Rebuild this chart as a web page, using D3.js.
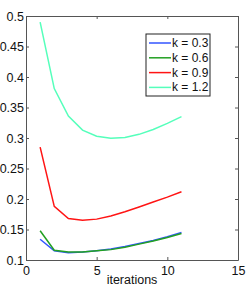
<!DOCTYPE html>
<html>
<head>
<meta charset="utf-8">
<script src="https://cdn.jsdelivr.net/npm/d3@7"></script>
<style>
  body { margin: 0; background: #fff; }
  svg { display: block; font-family: "Liberation Sans", Arial, sans-serif; }
</style>
</head>
<body>
<svg id="chart"></svg>
<script>
let width = 249,
  height = 287;

// Data
const iterations = [1, 2, 3, 4, 5, 6, 7, 8, 9, 10, 11];
const k03 = [0.134, 0.115, 0.112, 0.113, 0.115, 0.118, 0.122, 0.127, 0.132, 0.138, 0.145];
const k06 = [0.148, 0.116, 0.113, 0.113, 0.115, 0.117, 0.121, 0.126, 0.131, 0.137, 0.1436];
const k09 = [0.285, 0.188, 0.168, 0.165, 0.167, 0.172, 0.179, 0.187, 0.195, 0.203, 0.212];
const k12 = [0.49, 0.381, 0.336, 0.313, 0.303, 0.2995, 0.301, 0.306, 0.314, 0.324, 0.335];
const seriesNames = ["k = 0.3", "k = 0.6", "k = 0.9", "k = 1.2"];
const seriesColors = ["#3355ff", "#22a022", "#ff1414", "#55ffbb"];
const xTicks = [0, 5, 10, 15];
const yTicks = [0.1, 0.15, 0.2, 0.25, 0.3, 0.35, 0.4, 0.45, 0.5];

const series = [k03, k06, k09, k12];

let svg = d3.select("#chart").attr("width", width).attr("height", height);

let margin = { left: 26, right: 11, top: 16, bottom: 27 };

let x = d3.scaleLinear().domain([0, 15]).range([margin.left, width - margin.right]);
let y = d3.scaleLinear().domain([0.1, 0.5]).range([height - margin.bottom, margin.top]);

// Axes (ticks inside, matlab style)
let axisColor = "#555";
let axisBottomG = svg.append("g")
  .attr("transform", "translate(0," + y(0.1) + ")")
  .call(d3.axisBottom(x).tickValues(xTicks).tickSizeInner(-3).tickSizeOuter(0).tickPadding(6));
let axisLeftG = svg.append("g")
  .attr("transform", "translate(" + x(0) + ",0)")
  .call(d3.axisLeft(y).tickValues(yTicks).tickFormat(d3.format("")).tickSizeInner(-3).tickSizeOuter(0).tickPadding(2));
let axisTopG = svg.append("g")
  .attr("transform", "translate(0," + y(0.5) + ")")
  .call(d3.axisTop(x).tickValues(xTicks).tickSizeInner(-3).tickSizeOuter(0).tickFormat(""));
let axisRightG = svg.append("g")
  .attr("transform", "translate(" + x(15) + ",0)")
  .call(d3.axisRight(y).tickValues(yTicks).tickSizeInner(-3).tickSizeOuter(0).tickFormat(""));

[axisBottomG, axisLeftG, axisTopG, axisRightG].forEach((g) => {
  g.select(".domain").attr("stroke", axisColor).attr("stroke-width", 1);
  g.selectAll(".tick line").attr("stroke", axisColor);
  g.selectAll(".tick text").attr("fill", "#111").style("font-size", "12.5px").style("font-family", "Liberation Sans, Arial, sans-serif");
});

// x label
svg.append("text")
  .attr("x", x(7.5))
  .attr("y", height - 3)
  .attr("text-anchor", "middle")
  .style("font-size", "12.5px")
  .attr("fill", "#111")
  .text("iterations");

// Lines
let line = d3.line()
  .x((d, i) => x(iterations[i]))
  .y((d) => y(d));

svg.append("g")
  .selectAll("path")
  .data(series)
  .enter()
  .append("path")
  .attr("fill", "none")
  .attr("stroke", (d, i) => seriesColors[i])
  .attr("stroke-width", 1.5)
  .attr("d", line);

// Legend
let legend = svg.append("g").attr("transform", "translate(146,34)");
legend.append("rect")
  .attr("width", 64)
  .attr("height", 62)
  .attr("fill", "#fff")
  .attr("stroke", "#222")
  .attr("stroke-width", 1);

let rows = legend.selectAll("g.row")
  .data(seriesNames)
  .enter()
  .append("g")
  .attr("class", "row")
  .attr("transform", (d, i) => "translate(0," + (9 + i * 14.8) + ")");

rows.append("line")
  .attr("x1", 3)
  .attr("x2", 25)
  .attr("stroke", (d, i) => seriesColors[i])
  .attr("stroke-width", 1.5);

rows.append("text")
  .attr("x", 26)
  .attr("y", 4)
  .style("font-size", "12px")
  .attr("fill", "#111")
  .text((d) => d);
</script>
</body>
</html>
